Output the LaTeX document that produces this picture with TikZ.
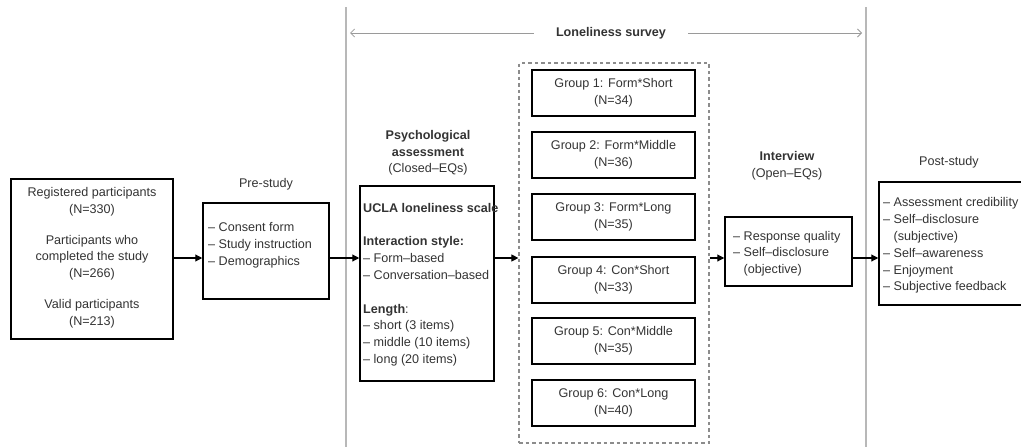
\documentclass[tikz,border=0pt]{standalone}
\usepackage{fontspec}
\setmainfont{Liberation Sans}
\usetikzlibrary{arrows.meta}
\definecolor{txt}{HTML}{333333}
\definecolor{sepc}{HTML}{B8B8B8}
\definecolor{dshc}{HTML}{8C8C8C}
\definecolor{spanc}{HTML}{9A9A9A}
\begin{document}
\begin{tikzpicture}[x=1pt,y=-1pt,
  every node/.style={font=\fontsize{12.6}{16.8}\selectfont, text=txt, inner sep=0pt},
  box/.style={draw=black, line width=1.5pt, rectangle},
  grp/.style={box, minimum width=163pt, minimum height=46pt, align=center},
  lst/.style={align=left, anchor=west},
  arr/.style={line width=1.1pt, -{Triangle[length=7pt,width=7pt]}},
  sepline/.style={draw=sepc, line width=1.5pt},
  span/.style={draw=spanc, line width=0.8pt, -{Straight Barb[length=4pt,width=8pt]}},
  bf/.style={font=\fontsize{12.6}{16.8}\selectfont\bfseries}
]
\clip (0,0) rectangle (1021,447);
\useasboundingbox (0,0) rectangle (1021,447);

% separators
\coordinate (s1t) at (346,7);
\coordinate (s1b) at (346,447);
\coordinate (s2t) at (866,7);
\coordinate (s2b) at (866,447);
\draw[sepline] (s1t) -- (s1b);
\draw[sepline] (s2t) -- (s2b);

% loneliness survey span
\node[bf, inner xsep=22pt] (ls) at (611,33) {Loneliness survey};
\coordinate (lsL) at (350,33);
\coordinate (lsR) at (862,33);
\draw[span] (ls.west) -- (lsL);
\draw[span] (ls.east) -- (lsR);

% participants
\node[box, minimum width=162pt, minimum height=160pt] (reg) at (92,259) {};
\node[align=center] (regt) at (92,257.5) {\strut Registered participants\\(N=330)\\[14pt]Participants who\\completed the study\\(N=266)\\[14pt]Valid participants\\(N=213)\strut};

% pre-study
\node (prel) at (266,184) {Pre-study};
\node[box, minimum width=126pt, minimum height=96pt] (pre) at (266,251) {};
\node[lst] (pret) at (208,245) {\strut -- Consent form\\-- Study instruction\\-- Demographics\strut};

% psychological assessment
\node[align=center, anchor=north] (psyl) at (428,130) {\bfseries Psychological\\\bfseries assessment\\(Closed--EQs)};
\node[box, minimum width=134pt, minimum height=195pt] (ucla) at (427,283.5) {};
\node[lst] (uclat) at (363,284.5) {\strut\textbf{UCLA loneliness scale}\\\strut\\\textbf{Interaction style:}\\-- Form--based\\-- Conversation--based\\\strut\\\textbf{Length}:\\-- short (3 items)\\-- middle (10 items)\\-- long (20 items)\strut};

% groups
\node[draw=dshc, line width=1.2pt, dash pattern=on 3.5pt off 3pt, minimum width=190pt, minimum height=380pt] (gbox) at (614,253) {};
\node[grp] (g1) at (613.5,93) {Group 1: Form*Short\\(N=34)};
\node[grp] (g2) at (613.5,155) {Group 2: Form*Middle\\(N=36)};
\node[grp] (g3) at (613.5,217) {Group 3: Form*Long\\(N=35)};
\node[grp] (g4) at (613.5,280) {Group 4: Con*Short\\(N=33)};
\node[grp] (g5) at (613.5,341) {Group 5: Con*Middle\\(N=35)};
\node[grp] (g6) at (613.5,403) {Group 6: Con*Long\\(N=40)};

% interview
\node[align=center, anchor=north] (intl) at (787,151) {\bfseries Interview\\(Open--EQs)};
\node[box, minimum width=127pt, minimum height=69pt] (intv) at (788.5,251.5) {};
\node[lst] (intt) at (733,253.5) {\strut -- Response quality\\-- Self--disclosure\\\hphantom{-- }(objective)\strut};

% post-study
\node (postl) at (949,162) {Post-study};
\node[box, minimum width=152pt, minimum height=123pt] (post) at (955,243.5) {};
\node[lst] (postt) at (883,245.5) {\strut -- Assessment credibility\\-- Self--disclosure\\\hphantom{-- }(subjective)\\-- Self--awareness\\-- Enjoyment\\-- Subjective feedback\strut};

% flow arrows
\coordinate (fy) at (0,258);
\draw[arr] (reg.east |- fy) -- (pre.west |- fy);
\draw[arr] (pre.east |- fy) -- (ucla.west |- fy);
\draw[arr] (ucla.east |- fy) -- (gbox.west |- fy);
\draw[arr] (gbox.east |- fy) -- (intv.west |- fy);
\draw[arr] (intv.east |- fy) -- (post.west |- fy);
\end{tikzpicture}
\end{document}
